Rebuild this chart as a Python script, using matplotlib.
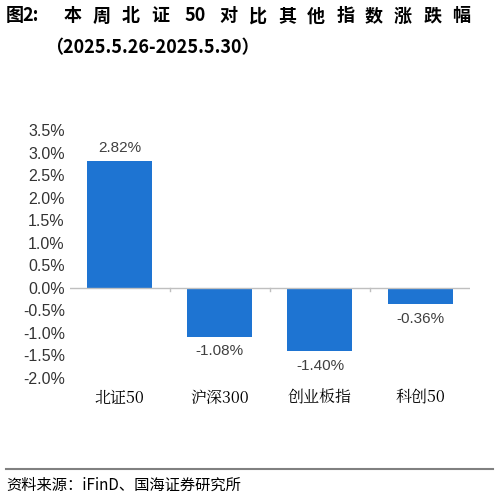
import matplotlib
matplotlib.use("Agg")
import matplotlib.pyplot as plt
from matplotlib.ticker import FuncFormatter

plt.rcParams['font.family'] = ['Noto Sans CJK SC', 'DejaVu Sans']

categories = ["北证50", "沪深300", "创业板指", "科创50"]
values = [2.82, -1.08, -1.40, -0.36]
yticks = [3.5, 3.0, 2.5, 2.0, 1.5, 1.0, 0.5, 0.0, -0.5, -1.0, -1.5, -2.0]

fig = plt.figure(figsize=(4.98, 4.99), dpi=100)
ax = fig.add_axes([0.14, 0.2425, 0.804, 0.497])
x = range(len(categories))
ax.bar(x, values, width=0.65, color="#1E74D2", zorder=2)
ax.set_ylim(-2.0, 3.5)
ax.set_xlim(-0.5, 3.5)
ax.set_yticks(yticks)
ax.yaxis.set_major_formatter(FuncFormatter(lambda v, p: f"{v:.1f}%"))
ax.tick_params(axis='y', length=0, labelsize=11.5, labelcolor="#333333")
for lab in ax.get_yticklabels():
    lab.set_family(['Liberation Sans'])
ax.set_xticks(list(x))
ax.set_xticklabels(categories, fontsize=11.5, family=['Noto Serif CJK SC', 'Noto Sans CJK SC', 'DejaVu Sans'])
ax.tick_params(axis='x', length=0, pad=8)
for s in ax.spines.values():
    s.set_visible(False)
ax.axhline(0, color="#BFBFBF", lw=1, zorder=3)
for xi in [0.5, 1.5, 2.5]:
    ax.plot([xi, xi], [0, -0.08], color="#BFBFBF", lw=1, zorder=3)
for xi, v in zip(x, values):
    off = 0.28 if v > 0 else -0.33
    ax.text(xi, v + off, f"{v:.2f}%", ha='center', va='center', fontsize=11,
            color="#404040", family=['Liberation Sans'])

title_chars = ["图", "2:", "本", "周", "北", "证", "50", "对", "比", "其", "他", "指", "数", "涨", "跌", "幅"]
xs = [0.012, 0.045, 0.128, 0.185, 0.245, 0.303, 0.37, 0.44, 0.5, 0.558, 0.617, 0.675, 0.733, 0.79, 0.85, 0.908]
for c, xx in zip(title_chars, xs):
    fig.text(xx, 0.968, c, fontsize=13, fontweight='bold', ha='left', va='center')
fig.text(0.09, 0.905, "（2025.5.26-2025.5.30）", fontsize=13, fontweight='bold', ha='left', va='center')
fig.add_artist(plt.Line2D([0.012, 0.99], [0.06, 0.06], color="#808080", lw=1.5))
fig.text(0.012, 0.028, "资料来源：iFinD、国海证券研究所", fontsize=11, ha='left', va='center')
fig.savefig("out.png", dpi=100)
